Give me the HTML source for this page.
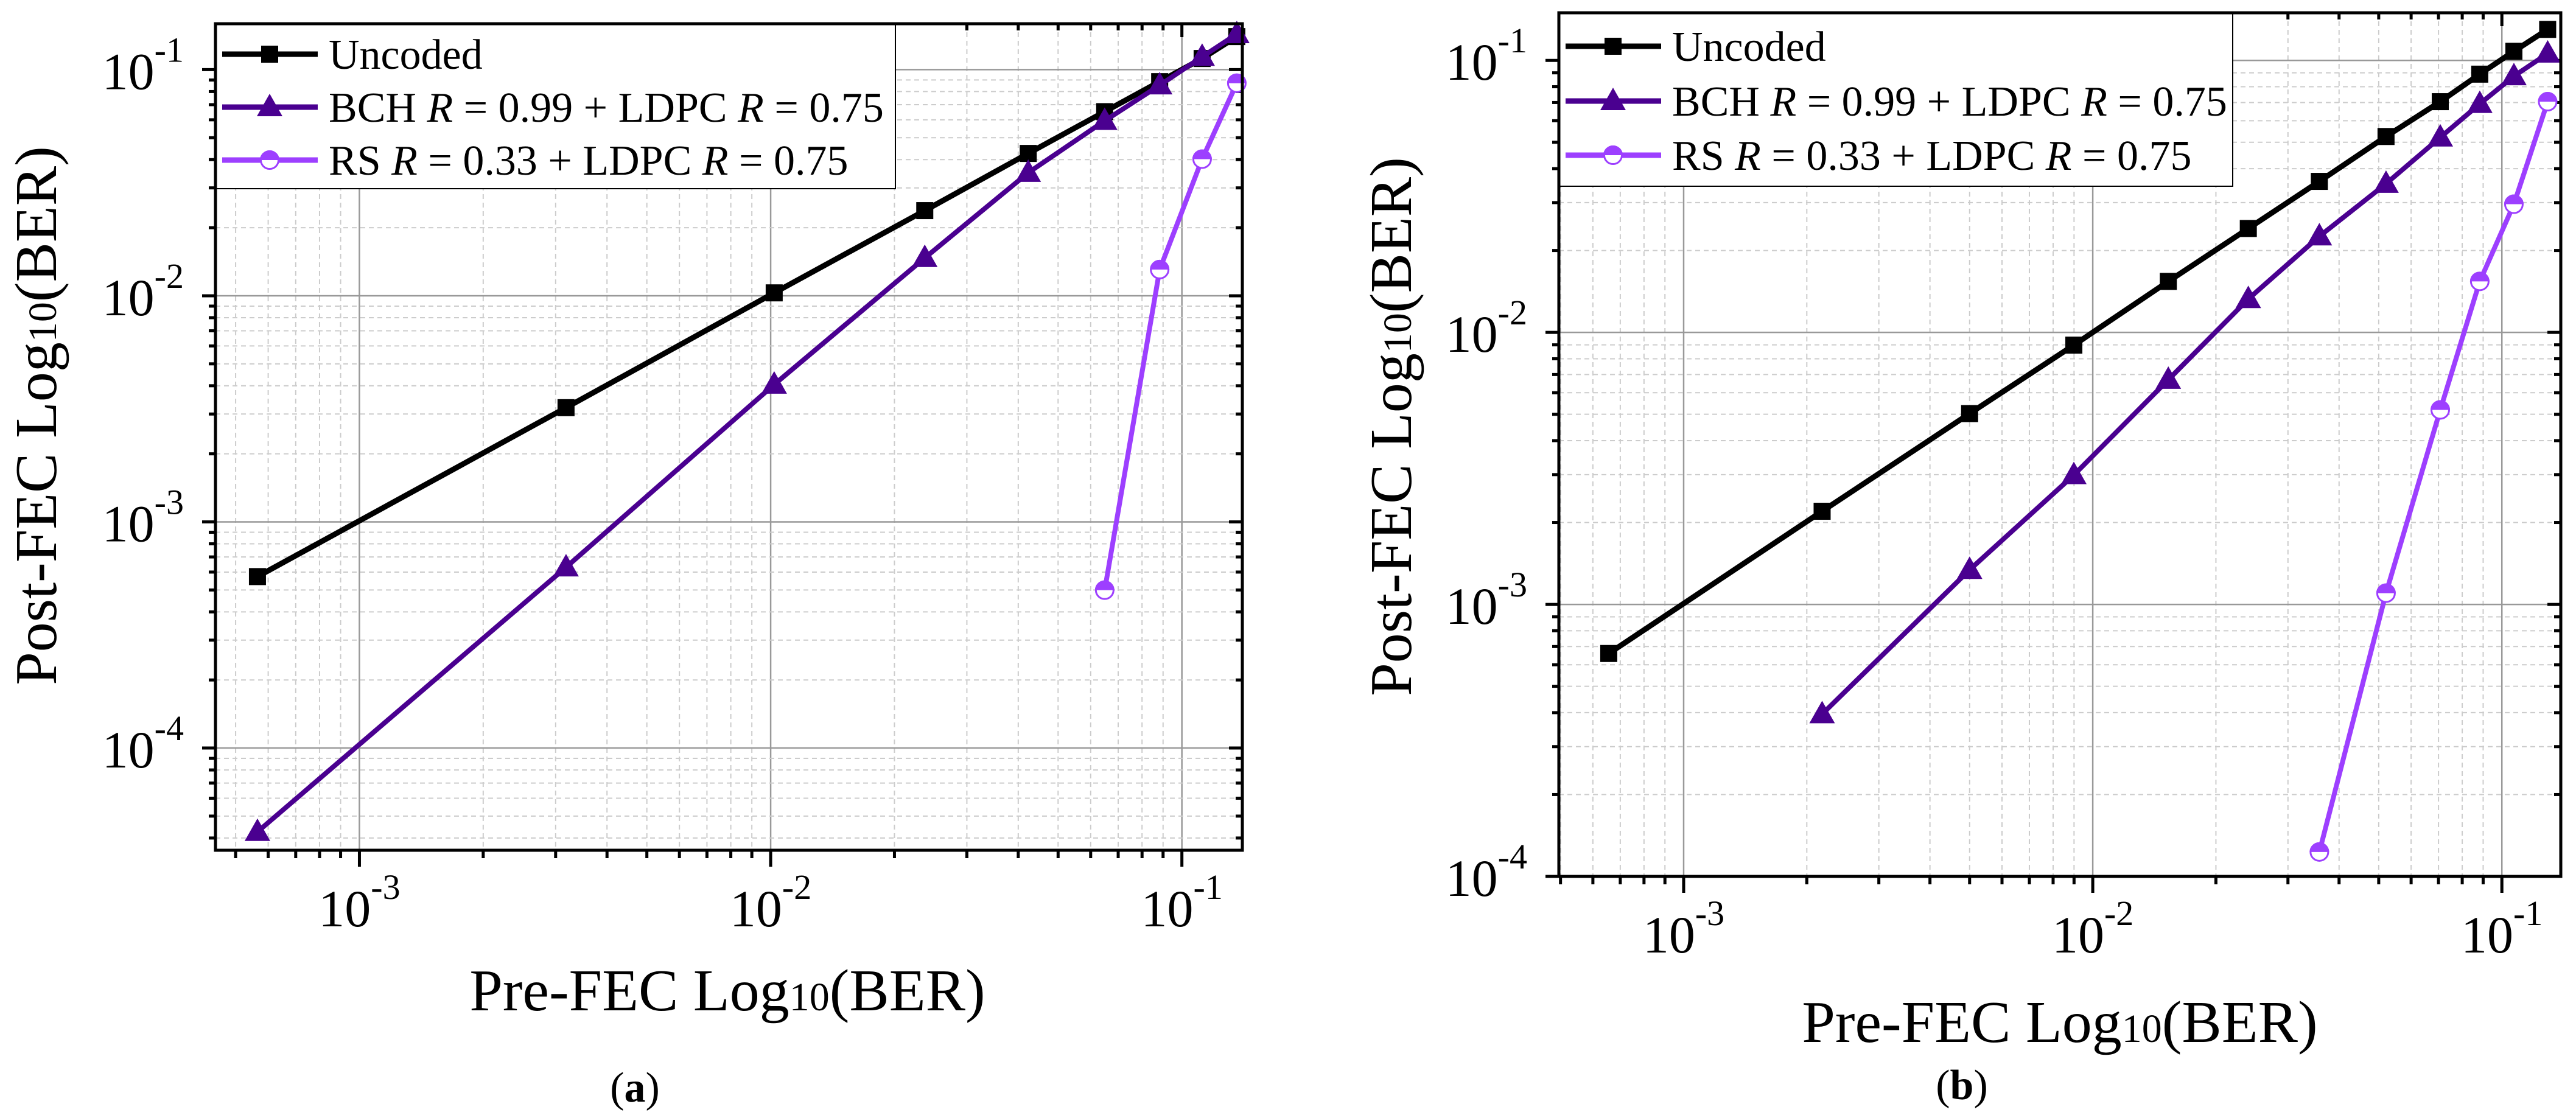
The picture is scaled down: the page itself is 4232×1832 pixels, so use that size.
<!DOCTYPE html>
<html><head><meta charset="utf-8"><style>
html,body{margin:0;padding:0;background:#fff;}
svg{display:block;}
svg text{font-family:"Liberation Serif","DejaVu Serif",serif;}
</style></head><body>
<svg id="fig" width="4232" height="1832" viewBox="0 0 4232 1832" xmlns="http://www.w3.org/2000/svg" font-family="Liberation Serif, serif"></svg>
<script>
// Panel (a) data
const aUncodedX=[5.65e-4,3.18e-3,0.0102,0.0237,0.0423,0.0649,0.0883,0.112,0.136];
const aUncodedY=[5.73e-4,3.2e-3,0.0103,0.0238,0.0426,0.0652,0.0885,0.112,0.140];
const aBchX=[5.65e-4,3.18e-3,0.0102,0.0237,0.0423,0.0649,0.0883,0.112,0.136];
const aBchY=[4.26e-5,6.3e-4,4.05e-3,0.0147,0.035,0.0594,0.0853,0.114,0.1436];
const aRsX=[0.0649,0.0883,0.112,0.136];
const aRsY=[4.99e-4,0.01306,0.0402,0.0871];
// Panel (b) data
const bUncodedX=[6.56e-4,2.18e-3,5.0e-3,8.99e-3,0.0153,0.0240,0.0358,0.0521,0.0707,0.0883,0.107,0.1294];
const bUncodedY=[6.6e-4,2.2e-3,5.03e-3,8.98e-3,0.0154,0.0241,0.0359,0.0525,0.0705,0.089,0.108,0.130];
const bBchX=[2.18e-3,5.0e-3,8.99e-3,0.0153,0.0240,0.0358,0.0521,0.0707,0.0883,0.107,0.1294];
const bBchY=[3.95e-4,1.34e-3,2.99e-3,6.7e-3,0.01327,0.02255,0.0352,0.0521,0.0692,0.0875,0.106];
const bRsX=[0.0358,0.0521,0.0707,0.0883,0.107,0.1294];
const bRsY=[1.23e-4,1.10e-3,5.19e-3,0.0154,0.0296,0.0705];
const xTickExps=[-3,-2,-1];
const aYTickExps=[-4,-3,-2,-1];
const bYTickExps=[-4,-3,-2,-1];
const legendLabels=[["Uncoded"],["BCH ","R"," = 0.99 + LDPC ","R"," = 0.75"],["RS ","R"," = 0.33 + LDPC ","R"," = 0.75"]];

const NS="http://www.w3.org/2000/svg";
const svg=document.getElementById('fig');
function mk(tag,attrs,parent){const e=document.createElementNS(NS,tag);for(const k in attrs)e.setAttribute(k,attrs[k]);
  if(tag==='text')e.setAttribute('font-family','Liberation Serif, serif');
  (parent||svg).appendChild(e);return e;}
const C_BLACK="#000",C_BCH="#4a0090",C_RS="#9d3fff";

function panel(P){
  const g=mk('g',{});
  
  
  const sx=v=>P.L+(Math.log10(v)-P.x0)/(P.x1-P.x0)*(P.R-P.L);
  const sy=v=>P.B-(Math.log10(v)-P.y0)/(P.y1-P.y0)*(P.B-P.T);
  const grid=mk('g',{},g);
  
  
  const ticks=mk('g',{stroke:'#000','stroke-width':5},g);
  
  
  for(let e=Math.floor(P.x0);e<=Math.ceil(P.x1);e++){
    for(let m=1;m<10;m++){
      const lv=e+Math.log10(m); if(lv<P.x0||lv>P.x1)continue;
      const x=sx(Math.pow(10,lv));
      if(m===1){mk('line',{x1:x,x2:x,y1:P.T,y2:P.B,stroke:'#999','stroke-width':2.5},grid);
        mk('line',{x1:x,x2:x,y1:P.B,y2:P.B+27},ticks);mk('line',{x1:x,x2:x,y1:P.T,y2:P.T+22},ticks);}
      else{mk('line',{x1:x,x2:x,y1:P.T,y2:P.B,stroke:'#ccc','stroke-width':2,'stroke-dasharray':'8 6'},grid);
        mk('line',{x1:x,x2:x,y1:P.B,y2:P.B+13},ticks);mk('line',{x1:x,x2:x,y1:P.T,y2:P.T+11},ticks);}
    }
  }
  for(let e=Math.floor(P.y0);e<=Math.ceil(P.y1);e++){
    for(let m=1;m<10;m++){
      const lv=e+Math.log10(m); if(lv<P.y0-1e-9||lv>P.y1)continue;
      const y=sy(Math.pow(10,lv));
      if(m===1){mk('line',{x1:P.L,x2:P.R,y1:y,y2:y,stroke:'#999','stroke-width':2.5},grid);
        mk('line',{x1:P.L-22,x2:P.L,y1:y,y2:y},ticks);mk('line',{x1:P.R-22,x2:P.R,y1:y,y2:y},ticks);}
      else{mk('line',{x1:P.L,x2:P.R,y1:y,y2:y,stroke:'#ccc','stroke-width':2,'stroke-dasharray':'8 6'},grid);
        mk('line',{x1:P.L-11,x2:P.L,y1:y,y2:y},ticks);mk('line',{x1:P.R-11,x2:P.R,y1:y,y2:y},ticks);}
    }
  }
  xTickExps.forEach(e=>{
    const t=mk('text',{x:sx(Math.pow(10,e)),y:P.B+125,'text-anchor':'middle','font-size':86},g);
    
    
    t.appendChild(document.createTextNode('10'));
    const s=mk('tspan',{dy:-45,'font-size':58},t);s.textContent=String(e);
  });
  P.yt.forEach(e=>{
    const t=mk('text',{x:P.L-52,y:sy(Math.pow(10,e))+32,'text-anchor':'end','font-size':86},g);
    
    
    t.appendChild(document.createTextNode('10'));
    const s=mk('tspan',{dy:-45,'font-size':58},t);s.textContent=String(e);
  });
  const series=[[P.ux,P.uy,C_BLACK,'sq','uncoded-series'],[P.bx,P.by,C_BCH,'tri','bch-ldpc-series'],[P.rx,P.ry,C_RS,'circ','rs-ldpc-series']];
  const marker=(par,type,col,x,y)=>{
    if(type==='sq')mk('rect',{x:x-14,y:y-14,width:28,height:28,fill:col},par);
    else if(type==='tri')mk('polygon',{points:`${x},${y-22} ${x-21},${y+15} ${x+21},${y+15}`,fill:col},par);
    else{mk('circle',{cx:x,cy:y,r:14.5,fill:'#fff',stroke:col,'stroke-width':3},par);
      mk('path',{d:`M${x-16},${y} A16,16 0 0 1 ${x+16},${y} Z`,fill:col},par);}
  };
  series.forEach(([xs,ys,col,type,name])=>{
    const sg=mk('g',{},g);
    
    
    mk('polyline',{points:xs.map((v,i)=>sx(v)+','+sy(ys[i])).join(' '),fill:'none',stroke:col,'stroke-width':type==='sq'?9:8,'stroke-linejoin':'round'},sg);
    xs.forEach((v,i)=>marker(sg,type,col,sx(v),sy(ys[i])));
  });
  const lg=mk('g',{},g);
  
  
  mk('rect',{x:P.L,y:P.T,width:P.lw,height:P.lh,fill:'#fff',stroke:'#000','stroke-width':2},lg);
  const cols=[C_BLACK,C_BCH,C_RS],types=['sq','tri','circ'];
  legendLabels.forEach((parts,i)=>{
    const y=P.T+P.le[i];
    const en=mk('g',{},lg);
    
    
    mk('line',{x1:P.L+11,x2:P.L+168,y1:y,y2:y,stroke:cols[i],'stroke-width':9},en);
    marker(en,types[i],cols[i],P.L+89,y);
    const t=mk('text',{x:P.L+186,y:y+24,'font-size':70},en);
    parts.forEach(p=>{const s=mk('tspan',p==='R'?{'font-style':'italic'}:{},t);s.textContent=p;});
  });
  const fr=mk('rect',{x:P.L,y:P.T,width:P.R-P.L,height:P.B-P.T,fill:'none',stroke:'#000','stroke-width':5},g);
  
  
  const xt=mk('text',{x:P.xtx,y:P.xty,'text-anchor':'middle','font-size':98},g);
  
  
  xt.appendChild(document.createTextNode('Pre-FEC Log'));
  let s=mk('tspan',{'font-size':66},xt);s.textContent='10';
  s=mk('tspan',{},xt);s.textContent='(BER)';
  const yt=mk('text',{x:0,y:0,'text-anchor':'middle','font-size':98,transform:`translate(${P.ytx},${P.yty}) rotate(-90)`},g);
  
  
  yt.appendChild(document.createTextNode('Post-FEC Log'));
  s=mk('tspan',{'font-size':66},yt);s.textContent='10';
  s=mk('tspan',{},yt);s.textContent='(BER)';
  const cap=mk('text',{x:P.cx,y:P.cy,'text-anchor':'middle','font-size':70},g);
  
  
  cap.appendChild(document.createTextNode('('));
  s=mk('tspan',{'font-weight':'bold'},cap);s.textContent=P.letter;
  cap.appendChild(document.createTextNode(')'));
}
panel({name:'panel-a',L:354,R:2041,T:39,B:1397,x0:-3.35,x1:-0.853,y0:-4.452,y1:-0.797,yt:aYTickExps,
  ux:aUncodedX,uy:aUncodedY,bx:aBchX,by:aBchY,rx:aRsX,ry:aRsY,lw:1117,lh:271,le:[50,137,224],
  xtx:1195,xty:1660,ytx:92,yty:683,cx:1043,cy:1810,letter:'a'});
panel({name:'panel-b',L:2561,R:4207,T:21,B:1440,x0:-3.305,x1:-0.856,y0:-4,y1:-0.825,yt:bYTickExps,
  ux:bUncodedX,uy:bUncodedY,bx:bBchX,by:bBchY,rx:bRsX,ry:bRsY,lw:1107,lh:285,le:[55,145,234],
  xtx:3384,xty:1712,ytx:2318,yty:701,cx:3223,cy:1806,letter:'b'});
</script>
</body></html>
